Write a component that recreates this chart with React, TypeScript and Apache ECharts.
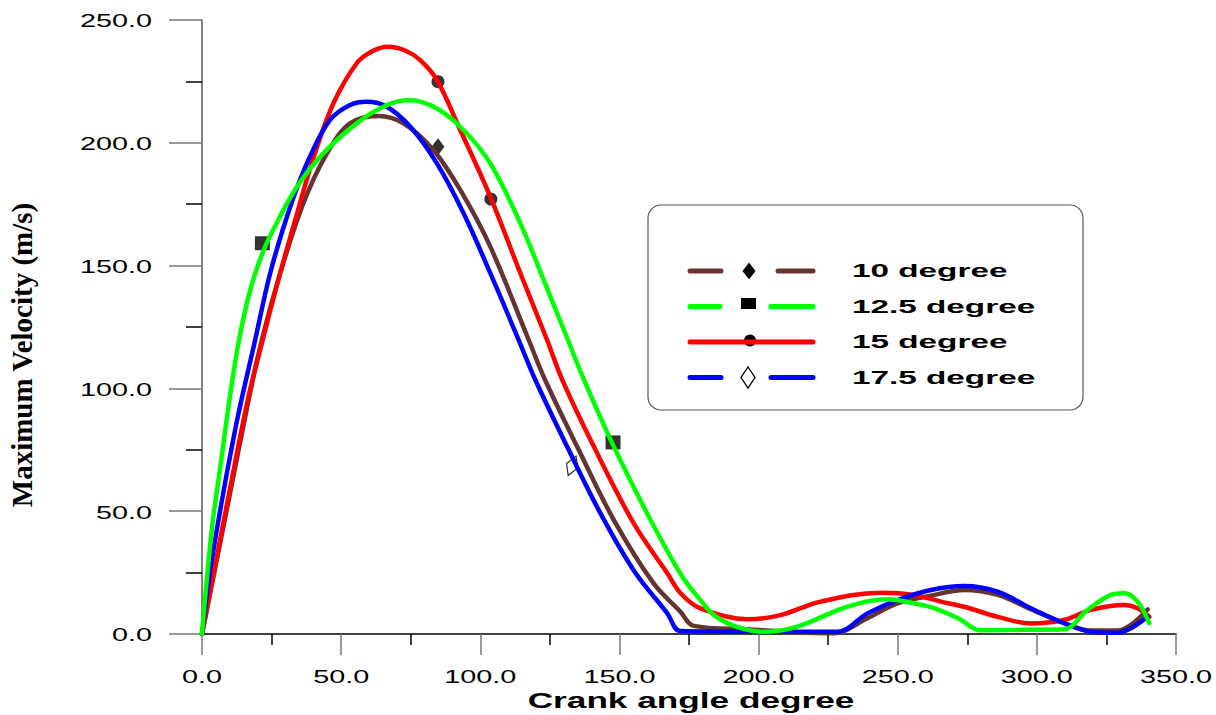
import React, { useEffect, useRef } from "react";
import * as echarts from "echarts";

// ---- tick labels ----
const xTicks = [0, 50, 100, 150, 200, 250, 300, 350];
const yTicks = [0, 50, 100, 150, 200, 250];

const xTitle = "Crank angle degree";
const yTitle = "Maximum Velocity (m/s)";
const seriesNames = ["10 degree", "12.5 degree", "15 degree", "17.5 degree"];
const seriesColors = ["#663333", "#00FF00", "#FF0000", "#0000FF"];

// ---- curves (crank angle, velocity) ----
const deg10 = [
  [0, 0], [9.5, 54], [16.7, 95], [21.5, 119.7], [28.1, 146.9], [36.4, 175.3], [44.9, 195.7],
  [53.2, 207.9], [63.4, 210.9], [72.4, 207.9], [83.2, 197], [92.8, 180.8], [103.6, 157.7],
  [117.4, 119.7], [123.3, 103.4], [134.8, 76.3], [148, 46.4], [162.3, 20.6], [171.9, 9.1],
  [176.7, 3.3], [195.9, 1.9], [227, 0.3], [239.1, 6.4], [249.9, 12.5], [261.9, 15.6],
  [273.9, 17.9], [285.9, 15.9], [297.8, 10.1], [309.8, 4.4], [319.4, 1.4], [329, 1.4],
  [333.8, 3.7], [339.8, 10],
];
const deg12_5 = [
  [0, 0], [3.5, 42.3], [7.1, 72.2], [9.5, 92.5], [13.1, 118.4], [17.3, 140], [21.7, 155],
  [26, 165.5], [34.1, 182.1], [43.6, 195.7], [55.6, 207.9], [65.2, 214.7], [74.2, 217.4],
  [84.4, 214], [94, 205.2], [103.6, 191.6], [114.4, 167.2], [122.8, 144.1], [131.5, 119.7],
  [137.3, 103.4], [148, 76.3], [161.2, 46.4], [172.5, 23.5], [179.1, 13.8], [184, 7.7],
  [192, 3], [201.9, 0.9], [213.9, 3], [231.9, 11.1], [246.3, 14.1], [255.9, 12.5],
  [262, 10.9], [271.5, 6.5], [279.9, 1.5], [295, 1.7], [309.8, 1.9], [318.2, 9.8],
  [326.6, 15.9], [331.4, 16.6], [336.2, 13.2], [340.4, 4.4],
];
const deg15 = [
  [0, 0], [9.5, 55.9], [16.7, 96.6], [22.1, 121], [28.1, 147], [34.1, 171], [40, 193.7],
  [47.2, 216], [55.6, 232.4], [61, 237.2], [67, 239.1], [73, 237.6], [78.4, 233.7],
  [84.4, 225.6], [92.8, 205.2], [103.6, 178], [114.4, 146.9], [124, 119.7], [129.5, 103.4],
  [140.8, 76.3], [155.1, 45.1], [167.2, 24.7], [172, 16.6], [179.1, 10.4], [195.9, 6],
  [207.9, 7.7], [222.3, 13.2], [243.9, 16.8], [255.9, 15.9], [265.5, 13.2], [273.9, 11.1],
  [285.9, 7], [297.8, 4.3], [309.8, 5.7], [319.4, 9.8], [331.4, 11.8], [336.2, 10.5],
  [340.4, 7],
];
const deg17_5 = [
  [0, 0], [3.5, 30], [11.9, 83.1], [19.1, 119.7], [24.5, 146.9], [31.7, 174], [38.8, 194.4],
  [46, 209.3], [53.2, 215.4], [59.2, 216.7], [66.4, 214.7], [74.8, 206.6], [84.4, 191.6],
  [94, 171.3], [103.6, 146.9], [113.8, 119.7], [119.8, 103.4], [131.2, 76.3], [143.2, 49.1],
  [155.1, 26], [167.2, 8.4], [171.9, 1.2], [200, 0.9], [228.3, 0.9], [239.1, 8.4],
  [249.9, 13.8], [261.9, 17.9], [273.9, 19.5], [285.9, 17.2], [297.8, 10.5], [309.8, 4.4],
  [319.4, 0.9], [329, 0.5], [333.8, 2.3], [339.8, 7],
];

// ---- black marker points ----
const markDiamond = [[84.8, 198.4]];
const markSquare = [[21.7, 159.1], [147.7, 78]];
const markCircle = [[84.8, 224.9], [103.8, 177.1]];
const markOpenDiamond = [[133, 68.5]];

const curves = [deg10, deg12_5, deg15, deg17_5];
const drawOrder = [0, 2, 3, 1];

export default function App() {
  const ref = useRef<HTMLDivElement>(null);

  useEffect(() => {
    const chart = echarts.init(ref.current as HTMLDivElement, null, { renderer: "svg" });
    const GRID = { left: 202, right: 40, top: 20, bottom: 81 };

    const lineSeries = drawOrder.map((i) => ({
      name: seriesNames[i],
      type: "line",
      data: curves[i],
      smooth: 0.35,
      showSymbol: false,
      symbol: "none",
      z: 3,
      lineStyle: { color: seriesColors[i], width: 4.5, cap: "round", join: "round" },
      itemStyle: { color: seriesColors[i] },
    }));

    const markerSeries = [
      { type: "scatter", data: markDiamond, symbol: "diamond", symbolSize: [13, 17], itemStyle: { color: "#000" }, z: 2 },
      { type: "scatter", data: markSquare, symbol: "rect", symbolSize: [15, 14], itemStyle: { color: "#000" }, z: 2 },
      { type: "scatter", data: markCircle, symbol: "circle", symbolSize: 13, itemStyle: { color: "#000" }, z: 2 },
      {
        type: "scatter", data: markOpenDiamond, symbol: "diamond", symbolSize: [12, 21], symbolRotate: -22,
        itemStyle: { color: "#fff", borderColor: "#000", borderWidth: 1.3 }, z: 2,
      },
    ];

    chart.setOption({
      animation: false,
      backgroundColor: "#fff",
      grid: { ...GRID, containLabel: false },
      xAxis: {
        type: "value", min: 0, max: 350, interval: 50,
        axisLine: { show: true, onZero: false, lineStyle: { color: "#000", width: 1.5 } },
        axisTick: { show: true, length: 21, lineStyle: { color: "#777", width: 1.5 } },
        minorTick: { show: true, splitNumber: 2, length: 11, lineStyle: { color: "#000", width: 1.5 } },
        axisLabel: { show: false },
        splitLine: { show: false },
      },
      yAxis: {
        type: "value", min: 0, max: 250, interval: 50,
        axisLine: { show: true, onZero: false, lineStyle: { color: "#555", width: 1.5 } },
        axisTick: { show: true, length: 33, lineStyle: { color: "#777", width: 1.5 } },
        minorTick: { show: true, splitNumber: 2, length: 16, lineStyle: { color: "#000", width: 1.5 } },
        axisLabel: { show: false },
        splitLine: { show: false },
      },
      series: [...markerSeries, ...lineSeries],
    });

    const numFont = '18px "Liberation Sans", Arial, sans-serif';
    const g: any[] = [];
    yTicks.forEach((v) => {
      const py = chart.convertToPixel({ yAxisIndex: 0 }, v) as number;
      g.push({
        type: "text", x: GRID.left - 50, y: py + 1, scaleX: 1.6, silent: true,
        style: { text: v.toFixed(1), font: numFont, fill: "#000", align: "right", verticalAlign: "middle", textAlign: "right", textVerticalAlign: "middle" },
      });
    });
    const axisY = chart.convertToPixel({ yAxisIndex: 0 }, 0) as number;
    xTicks.forEach((v) => {
      const px = chart.convertToPixel({ xAxisIndex: 0 }, v) as number;
      g.push({
        type: "text", x: px, y: axisY + 43, scaleX: 1.6, silent: true,
        style: { text: v.toFixed(1), font: numFont, fill: "#000", align: "center", verticalAlign: "middle", textAlign: "center", textVerticalAlign: "middle" },
      });
    });
    const x0 = chart.convertToPixel({ xAxisIndex: 0 }, 0) as number;
    const x1 = chart.convertToPixel({ xAxisIndex: 0 }, 350) as number;
    g.push({
      type: "text", x: (x0 + x1) / 2 + 2, y: axisY + 66, scaleX: 1.6, silent: true,
      style: { text: xTitle, font: 'bold 22px "Liberation Sans", Arial, sans-serif', fill: "#000", align: "center", verticalAlign: "middle", textAlign: "center", textVerticalAlign: "middle" },
    });
    g.push({
      type: "text", x: 22, y: 355, rotation: Math.PI / 2, silent: true,
      style: { text: yTitle, font: 'bold 29px "Liberation Serif", "Times New Roman", serif', fill: "#000", align: "center", verticalAlign: "middle", textAlign: "center", textVerticalAlign: "middle" },
    });

    // ---- legend box ----
    const LB = { x: 648, y: 205, w: 435, h: 205 };
    g.push({ type: "rect", z: 10, silent: true, shape: { x: LB.x, y: LB.y, width: LB.w, height: LB.h, r: 13 }, style: { fill: "#fff", stroke: "#555", lineWidth: 1.2 } });
    const rows = [271, 306.5, 342, 377.5];
    const lx1 = 690, lx2 = 813, mx = 749;
    // 10 degree
    g.push({ type: "line", z: 11, silent: true, shape: { x1: lx1, y1: rows[0], x2: 721, y2: rows[0] }, style: { stroke: seriesColors[0], lineWidth: 5, lineCap: "round" } });
    g.push({ type: "line", z: 11, silent: true, shape: { x1: 778, y1: rows[0], x2: lx2, y2: rows[0] }, style: { stroke: seriesColors[0], lineWidth: 5, lineCap: "round" } });
    g.push({ type: "polygon", z: 12, silent: true, shape: { points: [[mx, rows[0] - 8.5], [mx + 6.5, rows[0]], [mx, rows[0] + 8.5], [mx - 6.5, rows[0]]] }, style: { fill: "#000" } });
    // 12.5 degree
    g.push({ type: "line", z: 11, silent: true, shape: { x1: lx1, y1: rows[1], x2: 720, y2: rows[1] }, style: { stroke: seriesColors[1], lineWidth: 5, lineCap: "round" } });
    g.push({ type: "line", z: 11, silent: true, shape: { x1: 771, y1: rows[1], x2: lx2, y2: rows[1] }, style: { stroke: seriesColors[1], lineWidth: 5, lineCap: "round" } });
    g.push({ type: "rect", z: 12, silent: true, shape: { x: mx - 8, y: rows[1] - 8.5, width: 15, height: 11 }, style: { fill: "#000" } });
    // 15 degree
    g.push({ type: "circle", z: 11, silent: true, shape: { cx: mx + 1, cy: rows[2] - 1.5, r: 6 }, style: { fill: "#000" } });
    g.push({ type: "line", z: 12, silent: true, shape: { x1: lx1, y1: rows[2], x2: lx2, y2: rows[2] }, style: { stroke: seriesColors[2], lineWidth: 5, lineCap: "round" } });
    // 17.5 degree
    g.push({ type: "line", z: 11, silent: true, shape: { x1: lx1, y1: rows[3], x2: 721, y2: rows[3] }, style: { stroke: seriesColors[3], lineWidth: 5, lineCap: "round" } });
    g.push({ type: "line", z: 11, silent: true, shape: { x1: 771, y1: rows[3], x2: lx2, y2: rows[3] }, style: { stroke: seriesColors[3], lineWidth: 5, lineCap: "round" } });
    g.push({ type: "polygon", z: 12, silent: true, shape: { points: [[mx - 1, rows[3] - 10.5], [mx + 6, rows[3]], [mx - 1, rows[3] + 10.5], [mx - 8, rows[3]]] }, style: { fill: "#fff", stroke: "#000", lineWidth: 1.3 } });
    // legend texts
    seriesNames.forEach((name, i) => {
      g.push({
        type: "text", z: 12, x: 852, y: rows[i], scaleX: 1.85, silent: true,
        style: { text: name, font: 'bold 18px "Liberation Sans", Arial, sans-serif', fill: "#000", align: "left", verticalAlign: "middle", textAlign: "left", textVerticalAlign: "middle" },
      });
    });

    chart.setOption({ graphic: { elements: g } });

    return () => chart.dispose();
  }, []);

  return (
    <div
      ref={ref}
      style={{ position: "fixed", left: 0, top: 0, width: 1216, height: 715, background: "#fff" }}
    />
  );
}
